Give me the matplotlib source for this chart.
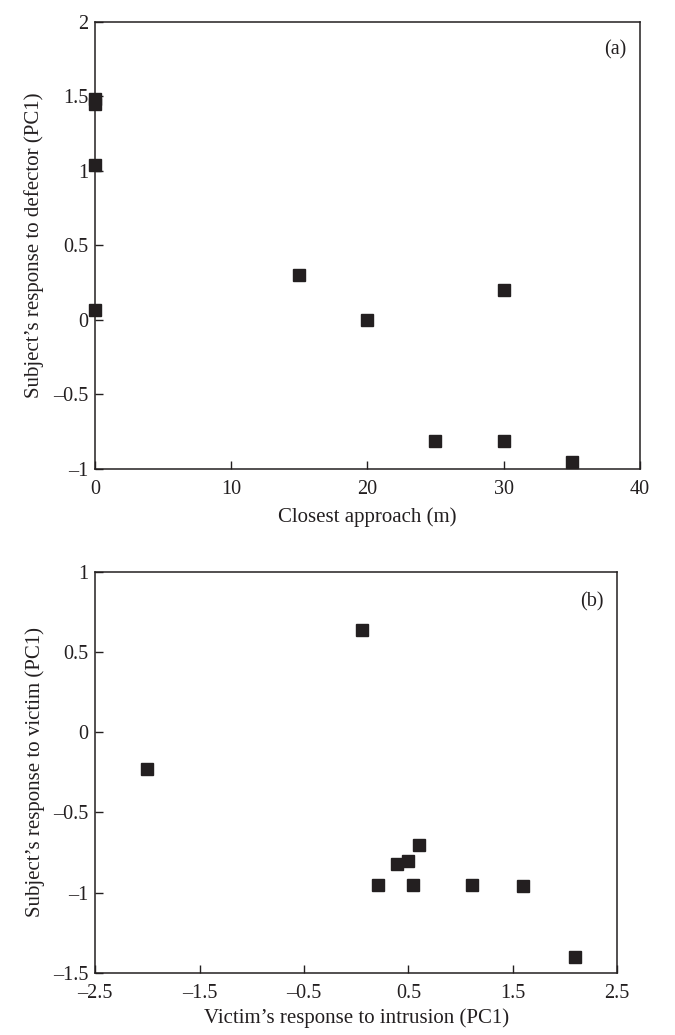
import matplotlib
matplotlib.use("Agg")
import matplotlib.pyplot as plt

# panel (a): closest approach vs response to defector
approach_m = [0, 0, 0, 0, 15, 20, 25, 30, 30, 35]
resp_defector = [1.48, 1.45, 1.04, 0.07, 0.30, 0.0, -0.81, -0.81, 0.20, -0.95]

# panel (b): victim's response vs subject's response to victim
victim_resp = [0.06, -2.0, 0.60, 0.39, 0.50, 0.21, 0.54, 1.11, 1.60, 2.10]
resp_victim = [0.64, -0.23, -0.70, -0.82, -0.80, -0.95, -0.95, -0.95, -0.96, -1.40]

xticks_a = [0, 10, 20, 30, 40]
yticks_a = [-1, -0.5, 0, 0.5, 1, 1.5, 2]
xticks_b = [-2.5, -1.5, -0.5, 0.5, 1.5, 2.5]
yticks_b = [-1.5, -1, -0.5, 0, 0.5, 1]


def fmt(v):
    s = f"{v:g}"
    return s.replace("-", "\u2013")


plt.rcParams["font.family"] = ["Liberation Serif", "DejaVu Serif"]
INK = "#231f20"

fig = plt.figure(figsize=(6.75, 10.35), dpi=100)
ax1 = fig.add_axes([0.1407, 0.5469, 0.807, 0.4319])
ax2 = fig.add_axes([0.1412, 0.0599, 0.773, 0.3877])


def style(ax, xt, yt):
    ax.set_xticks(xt)
    ax.set_xticklabels([fmt(v) for v in xt])
    ax.set_yticks(yt)
    ax.set_yticklabels([fmt(v) for v in yt])
    ax.set_xlim(xt[0], xt[-1])
    ax.set_ylim(yt[0], yt[-1])
    ax.tick_params(direction="in", length=6, width=1, labelsize=14.5,
                   colors=INK, top=False, right=False)
    ax.tick_params(axis="x", pad=8)
    ax.tick_params(axis="y", pad=5)
    for sp in ax.spines.values():
        sp.set_linewidth(1.1)
        sp.set_color(INK)


ax1.plot(approach_m, resp_defector, "s", color=INK, markersize=8, clip_on=False)
style(ax1, xticks_a, yticks_a)
ax1.set_xlabel("Closest approach (m)", fontsize=15, color=INK, labelpad=6)
ax1.set_ylabel("Subject\u2019s response to defector (PC1)", fontsize=15, color=INK, labelpad=6)
ax1.text(0.975, 0.96, "(a)", transform=ax1.transAxes, ha="right", va="top", fontsize=14.5, color=INK)

ax2.plot(victim_resp, resp_victim, "s", color=INK, markersize=8, clip_on=False)
style(ax2, xticks_b, yticks_b)
ax2.set_xlabel("Victim\u2019s response to intrusion (PC1)", fontsize=15, color=INK, labelpad=4)
ax2.set_ylabel("Subject\u2019s response to victim (PC1)", fontsize=15, color=INK, labelpad=6)
ax2.text(0.975, 0.95, "(b)", transform=ax2.transAxes, ha="right", va="top", fontsize=14.5, color=INK)

fig.savefig("out.png", dpi=100)
